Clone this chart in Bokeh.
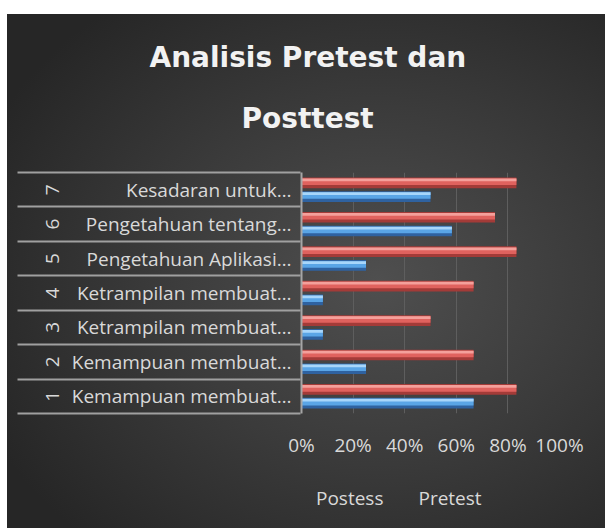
from bokeh.plotting import figure
from bokeh.layouts import column
from bokeh.models import (FactorRange, Range1d, ColumnDataSource, FixedTicker,
                          NumeralTickFormatter, Legend, LegendItem, Title,
                          LinearAxis, CDSView, IndexFilter)
from bokeh.transform import dodge
from bokeh.embed import file_html
from bokeh.resources import INLINE

# ---------------- data ----------------
numbers = ["1", "2", "3", "4", "5", "6", "7"]
labels = ["Kemampuan membuat…", "Kemampuan membuat…", "Ketrampilan membuat…",
          "Ketrampilan membuat…", "Pengetahuan Aplikasi…", "Pengetahuan tentang…",
          "Kesadaran untuk…"]
postess = [0.833, 0.667, 0.500, 0.667, 0.833, 0.750, 0.833]
pretest = [0.667, 0.250, 0.083, 0.083, 0.250, 0.583, 0.500]
x_ticks = [0, 0.2, 0.4, 0.6, 0.8, 1.0]
series_names = ["Postess", "Pretest"]
title_lines = ["Analisis Pretest dan", "Posttest"]

TXT = "#d9d9d9"
FONT = "Open Sans"

factors = list(zip(numbers, labels))
src = ColumnDataSource(dict(cat=factors, postess=postess, pretest=pretest))

p = figure(width=605, height=470,
           y_range=FactorRange(*factors, group_padding=0, factor_padding=0,
                               subgroup_padding=0, range_padding=0),
           x_range=Range1d(0, 1),
           output_backend="svg", toolbar_location=None,
           min_border_left=301, min_border_right=46,
           min_border_top=172, min_border_bottom=57)
p.border_fill_color = None
p.background_fill_color = None
p.outline_line_color = None

# ---------------- bars ----------------
styles = {
    "postess": (0.20, "#a33b38", "#e0625e", "#f4a09b"),
    "pretest": (-0.20, "#2f62a0", "#5aa5e6", "#a8d6fa"),
}
for field, (off, dark, main, hi) in styles.items():
    p.hbar(y=dodge("cat", off, range=p.y_range), left=0, right=field, height=0.31,
           source=src, fill_color=dark, line_color=None)
    p.hbar(y=dodge("cat", off + 0.03, range=p.y_range), left=0, right=field,
           height=0.19, source=src, fill_color=main, line_color=None)
    p.hbar(y=dodge("cat", off + 0.085, range=p.y_range), left=0, right=field,
           height=0.08, source=src, fill_color=hi, line_color=None)

# ---------------- x axis ----------------
p.xaxis.ticker = FixedTicker(ticks=x_ticks)
p.xaxis.formatter = NumeralTickFormatter(format="0%")
p.xaxis.axis_line_color = None
p.xaxis.major_tick_line_color = None
p.xaxis.minor_tick_line_color = None
p.xaxis.major_label_text_color = TXT
p.xaxis.major_label_text_font = FONT
p.xaxis.major_label_text_font_size = "19px"
p.xaxis.major_label_standoff = 12
p.xgrid.grid_line_color = "#5e5e5e"
p.xgrid.grid_line_width = 1
p.ygrid.grid_line_color = None

# ---------------- y axis: labels + rotated numbers ----------------
ax1 = p.yaxis[0]
ax1.major_label_text_font = FONT
ax1.major_label_text_font_size = "19px"
ax1.major_label_text_color = TXT
ax1.major_label_standoff = 10
ax1.major_tick_line_color = None
ax1.major_tick_in = 0
ax1.major_tick_out = 0
ax1.axis_line_color = "#a6a6a6"
ax1.axis_line_width = 2
ax1.group_text_font = FONT
ax1.group_text_font_size = "19px"
ax1.group_text_font_style = "normal"
ax1.group_text_color = TXT
ax1.separator_line_color = None

# boundary ticks between the categories (synthetic coordinates 0..n)
nb = len(numbers)
ax3 = LinearAxis(ticker=FixedTicker(ticks=list(range(nb + 1))),
                 major_label_overrides={i: "" for i in range(nb + 1)})
ax3.axis_line_color = None
ax3.minor_tick_line_color = None
ax3.major_tick_line_color = "#a0a0a0"
ax3.major_tick_line_width = 2
ax3.major_tick_in = 258
ax3.major_tick_out = 25
ax3.major_label_standoff = 0
p.add_layout(ax3, "left")

# ---------------- title (two lines) ----------------
p.add_layout(Title(text=title_lines[1], align="left", offset=-60, vertical_align="bottom",
                   standoff=75, text_font="DejaVu Sans", text_font_style="bold",
                   text_font_size="28px", text_color="#f2f2f2"), "above")
p.add_layout(Title(text=title_lines[0], align="left", offset=-152, vertical_align="bottom",
                   standoff=-22, text_font="DejaVu Sans", text_font_style="bold",
                   text_font_size="28px", text_color="#f2f2f2"), "above")

# ---------------- legend strip ----------------
leg = figure(width=605, height=58, x_range=Range1d(0, 1), y_range=Range1d(0, 1),
             output_backend="svg", toolbar_location=None,
             min_border_left=0, min_border_right=0, min_border_top=0, min_border_bottom=0)
leg.axis.visible = False
leg.grid.visible = False
leg.border_fill_color = None
leg.background_fill_color = None
leg.outline_line_color = None
empty = CDSView(filter=IndexFilter([]))
lsrc = ColumnDataSource(dict(y=[0.5] * nb, postess=postess, pretest=pretest))
items = []
for name, field in zip(series_names, ["postess", "pretest"]):
    r = leg.hbar(y="y", left=0, right=field, height=0.3, source=lsrc, view=empty,
                 fill_color=styles[field][2], line_color=styles[field][1])
    items.append(LegendItem(label=name, renderers=[r]))
legend = Legend(items=items, orientation="horizontal", location=(0, 17),
                border_line_color=None, background_fill_alpha=0,
                label_text_color=TXT, label_text_font=FONT, label_text_font_size="19px",
                glyph_width=10, glyph_height=10, label_standoff=5, spacing=20,
                padding=0, margin=0)
leg.add_layout(legend)

layout = column(p, leg, spacing=0)
layout.styles = {"background": "radial-gradient(ellipse 72% 68% at 62% 52%, #4f4f4f 0%, #3b3b3b 50%, #262626 100%) 7px 14px / calc(100% - 7px) calc(100% - 14px) no-repeat, #ffffff"}

open("out.html", "w").write(file_html(layout, INLINE))
